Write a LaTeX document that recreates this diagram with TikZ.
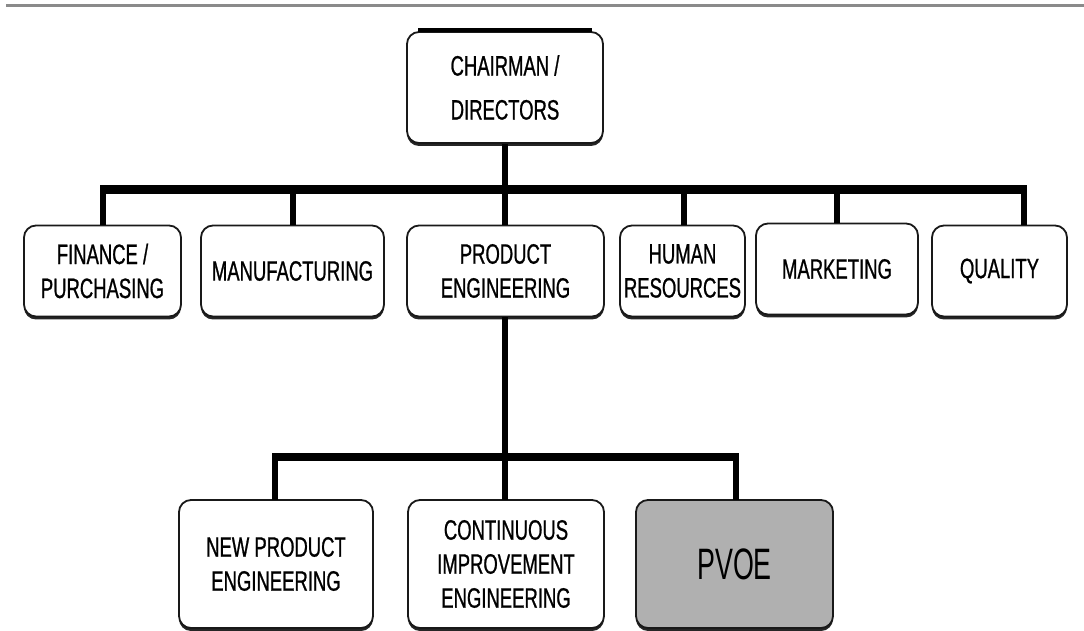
\documentclass[tikz,border=0pt]{standalone}
\usepackage{fontspec}
\setmainfont[FakeStretch=0.66,FakeBold=0.8]{Liberation Sans}
\newfontfamily\pvoefont[FakeStretch=0.61]{Liberation Sans}
\usetikzlibrary{shadows}
\definecolor{pvoegray}{HTML}{B0B0B0}
\definecolor{rulegray}{HTML}{8A8A8A}
\tikzset{
  x=1pt,y=1pt,
  orgbox/.style={draw=black!90, line width=1.8pt, rounded corners=12pt, fill=white,
    align=center, inner sep=0pt, font=\fontsize{28}{34}\selectfont,
    drop shadow={shadow xshift=0pt, shadow yshift=-3pt, opacity=1, fill=black!85}},
  bus/.style={line width=9pt, line cap=butt},
  drop/.style={line width=6pt, line cap=butt},
  bus2/.style={line width=8pt, line cap=butt},
}
\begin{document}
\begin{tikzpicture}
\useasboundingbox (0,0) rectangle (1084,630);
% top rule
\coordinate (r1) at (6,624);
\coordinate (r2) at (1084,624);
\draw[rulegray, line width=3pt] (r1) -- (r2);

% top level
\node[orgbox, minimum width=196, minimum height=111, font=\fontsize{28}{44}\selectfont] (chair) at (505,542.5) {CHAIRMAN /\\DIRECTORS};
\draw[line width=4pt] ([xshift=12pt,yshift=1pt]chair.north west) -- ([xshift=-12pt,yshift=1pt]chair.north east);

% second level
\node[orgbox, minimum width=157, minimum height=91] (fin) at (102.5,359) {FINANCE /\\PURCHASING};
\node[orgbox, minimum width=183, minimum height=91] (manu) at (292.5,359) {MANUFACTURING};
\node[orgbox, minimum width=197, minimum height=91] (prod) at (505.5,359) {PRODUCT\\ENGINEERING};
\node[orgbox, minimum width=125, minimum height=91] (hr) at (682.5,359) {HUMAN\\RESOURCES};
\node[orgbox, minimum width=162, minimum height=91] (mkt) at (837,361) {MARKETING};
\node[orgbox, minimum width=135, minimum height=91] (qual) at (999.5,359) {QUALITY};

% bus level 1
\coordinate (busL) at (100,440);
\coordinate (busR) at (1027,440);
\coordinate (qdrop) at (1024,404.5);
\draw[drop] (chair.south) -- (chair.south |- busL);
\draw[bus] (busL) -- (busR);
\draw[drop] (103,440) -- (103,404.5);
\draw[drop] (manu.north |- busL) -- (manu.north);
\draw[drop] (505,440) -- (prod.north -| 505,0);
\draw[drop] (684,440) -- (684,404.5);
\draw[drop] (mkt.north |- busL) -- (mkt.north);
\draw[drop] (qdrop |- busL) -- (qdrop);

% third level
\node[orgbox, minimum width=194, minimum height=128] (np) at (276,66) {NEW PRODUCT\\ENGINEERING};
\node[orgbox, minimum width=196, minimum height=128] (ci) at (506,66) {CONTINUOUS\\IMPROVEMENT\\ENGINEERING};
\node[orgbox, minimum width=197, minimum height=128, fill=pvoegray, font=\pvoefont\fontsize{44}{50}\selectfont] (pvoe) at (734.5,66) {PVOE};

% bus level 2
\coordinate (bus2L) at (272,173);
\coordinate (bus2R) at (739,173);
\draw[drop] (prod.south -| 505,0) -- (505,173);
\draw[bus2] (bus2L) -- (bus2R);
\draw[drop] (275,173) -- (275,130);
\draw[drop] (505,173) -- (505,130);
\draw[drop] (736,173) -- (736,130);
\end{tikzpicture}
\end{document}
